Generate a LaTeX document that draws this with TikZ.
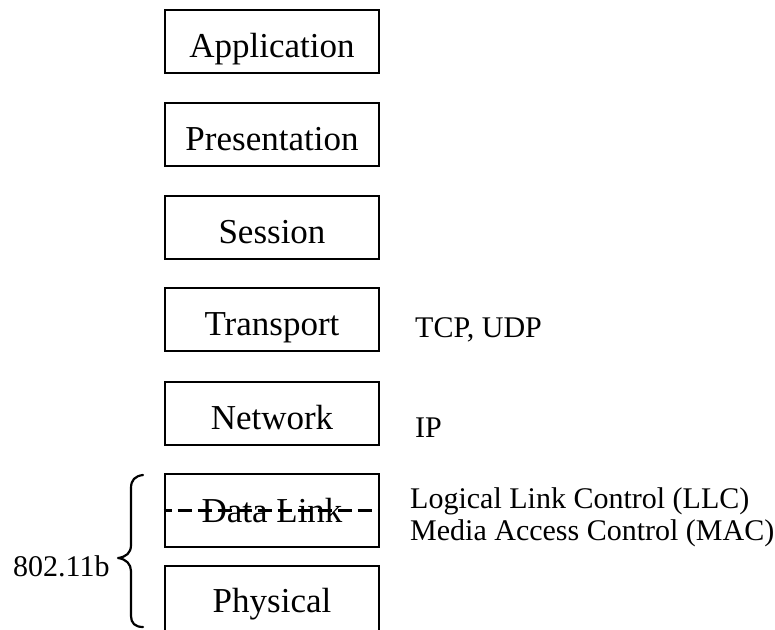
\documentclass[tikz,border=0pt]{standalone}
\usepackage{fontspec}
\setmainfont{Liberation Serif}
\begin{document}
\begin{tikzpicture}[x=1pt,y=-1pt,
  layer/.style={draw, line width=2.8pt, minimum width=214pt, minimum height=63pt,
    inner sep=0pt, text height=32pt, text depth=0pt,
    font=\fontsize{35}{40}\selectfont},
  tall/.style={minimum height=73pt},
  side/.style={anchor=base west, inner sep=0pt, font=\fontsize{30}{34}\selectfont},
  split/.style={line width=2.2pt, dash pattern=on 14pt off 6pt, dash phase=6pt},
  bracket/.style={line width=2.2pt, line cap=round, line join=round}]
\clip (0,0) rectangle (775,629);

% OSI stack
\node[layer] (app)  at (272,41.5)  {Application};
\node[layer] (pres) at (272,134.5) {Presentation};
\node[layer] (sess) at (272,227.5) {Session};
\node[layer] (trans) at (272,319.5) {Transport};
\node[layer] (net)  at (272,413.5) {Network};
\node[layer, tall, text height=23pt] (dl)   at (272,510.5) {Data Link};
\node[layer, tall, text height=19pt] (phys) at (272,602.5) {Physical};

% LLC / MAC split of the data link layer
\draw[split] (dl.west) -- (dl.east);

% protocols beside the layers
\node[side] (tcp) at (415,337) {TCP, UDP};
\node[side] (ip)  at (415,437) {IP};
\node[side] (llc) at (410,508) {Logical Link Control (LLC)};
\node[side] (mac) at (410,540) {Media Access Control (MAC)};

% 802.11b covers the two lowest layers
\coordinate (btop) at (143,475);
\coordinate (btip) at (118,558);
\coordinate (bbot) at (143,627);
\draw[bracket] (btop) .. controls (135,476) and (131,480) .. (131,488)
  -- (131,545) .. controls (131,553) and (126,557) .. (btip)
  .. controls (126,559) and (131,564) .. (131,571)
  -- (131,616) .. controls (131,623) and (135,627) .. (bbot);
\node[side] (std) at (13,576) {802.11b};
\end{tikzpicture}
\end{document}
